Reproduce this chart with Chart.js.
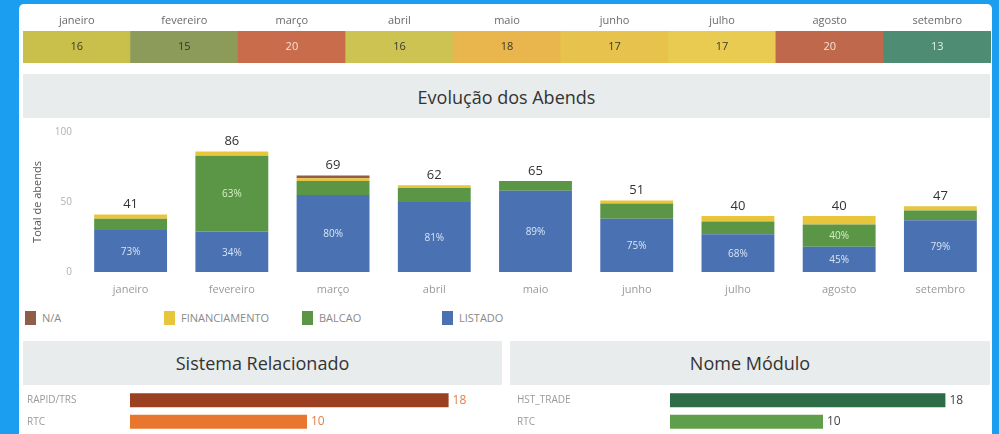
<!DOCTYPE html>
<html>
<head>
<meta charset="utf-8">
<script src="https://cdn.jsdelivr.net/npm/chart.js@4.4.1/dist/chart.umd.min.js"></script>
<style>
  html, body { margin: 0; padding: 0; width: 999px; height: 434px; overflow: hidden; background: #1b9df0; font-family: 'Open Sans', sans-serif; }
  #panel { position: absolute; left: 19px; top: 4px; width: 973px; height: 440px; background: #ffffff; border-radius: 5px; }
  .abs { position: absolute; }
  canvas { display: block; }
  .band { position: absolute; background: #e8ecec; color: #333; text-align: center; }
  .leg { position: absolute; top: 311px; height: 14px; font-size: 11px; color: #8a8a8a; line-height: 14px; }
  .leg i { display: inline-block; width: 11px; height: 14px; vertical-align: top; margin-right: 6px; }
</style>
</head>
<body>
<div id="panel"></div>

<div class="abs" style="left:23px;top:8px;width:968px;height:55px;"><canvas id="heat"></canvas></div>

<div class="band" style="left:23px;top:74px;width:967px;height:44px;line-height:46px;font-size:18px;">Evolução dos Abends</div>

<div class="abs" style="left:23px;top:118px;width:968px;height:182px;"><canvas id="main"></canvas></div>

<div class="leg" style="left:25px;"><i style="background:#8e5e48"></i>N/A</div>
<div class="leg" style="left:164px;"><i style="background:#e9c53c"></i>FINANCIAMENTO</div>
<div class="leg" style="left:302px;"><i style="background:#5a9646"></i>BALCAO</div>
<div class="leg" style="left:442px;"><i style="background:#4a72b2"></i>LISTADO</div>

<div class="band" style="left:23px;top:341px;width:479px;height:44px;line-height:44px;font-size:18px;">Sistema Relacionado</div>
<div class="band" style="left:510px;top:341px;width:480px;height:44px;line-height:44px;font-size:18px;">Nome Módulo</div>

<div class="abs" style="left:27px;top:389px;width:457px;height:44px;"><canvas id="sis"></canvas></div>
<div class="abs" style="left:517px;top:389px;width:459px;height:44px;"><canvas id="mod"></canvas></div>

<script>
// ---- data ----
const months = ['janeiro','fevereiro','março','abril','maio','junho','julho','agosto','setembro'];
const heatCounts = [16, 15, 20, 16, 18, 17, 17, 20, 13];

const listado       = [30, 29, 55, 50, 58, 38, 27, 18, 37];
const balcao        = [ 8, 54, 10, 10,  7, 11,  9, 16,  7];
const financiamento = [ 3,  3,  2,  2,  0,  2,  4,  6,  3];
const na            = [ 0,  0,  2,  0,  0,  0,  0,  0,  0];
const yTicks = [0, 50, 100];

const sistemaLabels = ['RAPID/TRS', 'RTC'];
const sistemaValues = [18, 10];
const moduloLabels = ['HST_TRADE', 'RTC'];
const moduloValues = [18, 10];

// ---- styles ----
const heatColors = ['#c9c04c','#8c9a5a','#c96c4c','#ccc352','#e8b64d','#e7c24c','#e9cb52','#c0684c','#4f8c74'];
const heatText   = ['#3a3a2a','#2f3a25','#f4e2da','#3a3a2a','#3a3a2a','#3a3a2a','#3a3a2a','#f4e2da','#e2f0ea'];

Chart.defaults.font.family = "'Open Sans', sans-serif";
Chart.defaults.animation = false;
Chart.defaults.plugins.legend.display = false;
Chart.defaults.plugins.tooltip.enabled = false;
Chart.defaults.responsive = true;
Chart.defaults.maintainAspectRatio = false;

// ---- heat strip ----
const heatText_plugin = {
  id: 'heatText',
  afterDatasetsDraw(chart) {
    const ctx = chart.ctx;
    const meta = chart.getDatasetMeta(0);
    ctx.save();
    ctx.font = "11px 'Open Sans', sans-serif";
    ctx.textAlign = 'center';
    ctx.textBaseline = 'middle';
    meta.data.forEach((bar, i) => {
      ctx.fillStyle = heatText[i];
      ctx.fillText(String(heatCounts[i]), bar.x, (bar.y + bar.base) / 2);
    });
    ctx.restore();
  }
};
new Chart(document.getElementById('heat'), {
  type: 'bar',
  data: {
    labels: months,
    datasets: [{
      data: heatCounts.map(() => [0, 1]),
      backgroundColor: heatColors,
      barPercentage: 1,
      categoryPercentage: 1,
      borderWidth: 0
    }]
  },
  options: {
    layout: { padding: 0, autoPadding: false },
    scales: {
      x: { position: 'top', grid: { display: false, drawTicks: false, tickLength: 0 }, border: { display: false },
           afterFit(s) { s.height = 23; },
           ticks: { color: '#6a6a6a', font: { size: 11 }, padding: 4, maxRotation: 0 } },
      y: { display: false, min: 0, max: 1 }
    }
  },
  plugins: [heatText_plugin]
});

// ---- main stacked chart ----
const stackLabels = {
  id: 'stackLabels',
  afterDatasetsDraw(chart) {
    const ctx = chart.ctx;
    const ys = chart.scales.y, xs = chart.scales.x;
    ctx.save();
    ctx.textAlign = 'center';
    ctx.textBaseline = 'middle';
    months.forEach((m, i) => {
      const total = listado[i] + balcao[i] + financiamento[i] + na[i];
      ctx.font = "13px 'Open Sans', sans-serif";
      ctx.fillStyle = '#333';
      ctx.fillText(String(total), xs.getPixelForValue(i), ys.getPixelForValue(total) - 10);
      [[0, listado, '#d8e4f6'], [1, balcao, '#d6f0c6']].forEach(([di, arr, col]) => {
        const bar = chart.getDatasetMeta(di).data[i];
        if (bar.base - bar.y > 20) {
          ctx.font = "10px 'Open Sans', sans-serif";
          ctx.fillStyle = col;
          ctx.fillText(Math.round(arr[i] / total * 100) + '%', bar.x, (bar.y + bar.base) / 2 + 1);
        }
      });
    });
    ctx.restore();
  }
};
new Chart(document.getElementById('main'), {
  type: 'bar',
  data: {
    labels: months,
    datasets: [
      { label: 'LISTADO', data: listado, backgroundColor: '#4a72b2' },
      { label: 'BALCAO', data: balcao, backgroundColor: '#5a9646' },
      { label: 'FINANCIAMENTO', data: financiamento, backgroundColor: '#e9c53c' },
      { label: 'N/A', data: na, backgroundColor: '#8e5e48' }
    ]
  },
  options: {
    datasets: { bar: { barPercentage: 0.72, categoryPercentage: 1, borderWidth: 0 } },
    layout: { padding: { top: 9, right: 0, left: 0, bottom: 0 } },
    scales: {
      x: { stacked: true, grid: { display: false, drawTicks: false, tickLength: 0 }, border: { display: false },
           afterFit(s) { s.height = 28; },
           ticks: { color: '#9a9a9a', font: { size: 11 }, padding: 11, maxRotation: 0 } },
      y: { stacked: true, min: 0, max: 100, grid: { display: false, drawTicks: false, tickLength: 0 }, border: { display: false },
           afterBuildTicks(s) { s.ticks = yTicks.map(v => ({ value: v })); },
           afterFit(s) { s.width = 57; },
           ticks: { color: '#b0b0b0', font: { size: 10 }, padding: 8 },
           title: { display: true, text: 'Total de abends', color: '#555', font: { size: 11 }, padding: { top: 8, bottom: 0 } } }
    }
  },
  plugins: [stackLabels]
});

// ---- bottom horizontal bars ----
function hbar(id, labels, values, colors, labelColor, axisWidth) {
  const valuePlugin = {
    id: 'vals_' + id,
    afterDatasetsDraw(chart) {
      const ctx = chart.ctx;
      ctx.save();
      ctx.font = "12px 'Open Sans', sans-serif";
      ctx.fillStyle = labelColor;
      ctx.textAlign = 'left';
      ctx.textBaseline = 'middle';
      chart.getDatasetMeta(0).data.forEach((bar, i) => {
        ctx.fillText(String(values[i]), bar.x + 4, bar.y);
      });
      ctx.restore();
    }
  };
  new Chart(document.getElementById(id), {
    type: 'bar',
    data: { labels: labels, datasets: [{ data: values, backgroundColor: colors, barPercentage: 0.64, categoryPercentage: 1, borderWidth: 0 }] },
    options: {
      indexAxis: 'y',
      layout: { padding: 0, autoPadding: false },
      scales: {
        x: { display: false, min: 0, max: 20 },
        y: { grid: { display: false, drawTicks: false, tickLength: 0 }, border: { display: false },
             afterFit(s) { s.width = axisWidth; },
             ticks: { crossAlign: 'far', color: '#9a9a9a', font: { size: 10, lineHeight: 0.1 }, padding: 0 } }
      }
    },
    plugins: [valuePlugin]
  });
}
hbar('sis', sistemaLabels, sistemaValues, ['#9c4022', '#e8762e'], '#e0804a', 103);
hbar('mod', moduloLabels, moduloValues, ['#2e6b47', '#5f9e4b'], '#444', 153);
</script>
</body>
</html>
